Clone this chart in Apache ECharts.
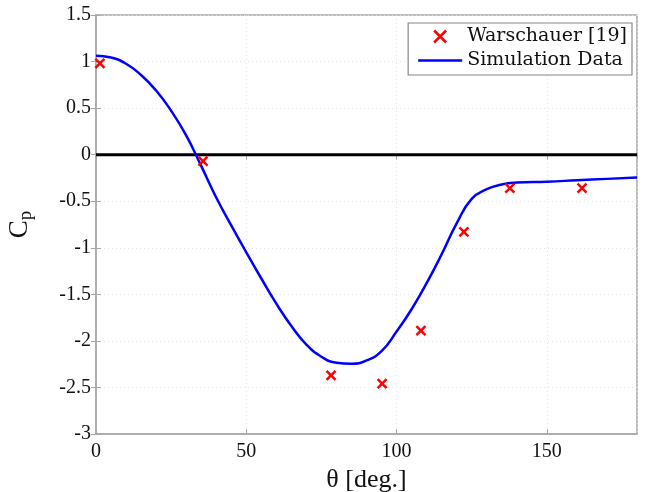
<!DOCTYPE html>
<html>
<head>
<meta charset="utf-8">
<script src="https://cdn.jsdelivr.net/npm/echarts@6/dist/echarts.min.js"></script>
<style>
html,body{margin:0;padding:0;background:#fff;}
#chart{width:647px;height:492px;}
</style>
</head>
<body>
<div id="chart"></div>
<script>
// Experimental data (Warschauer [19])
var expTheta = [1.3, 35.6, 78.2, 95.2, 108.1, 122.4, 137.7, 161.7];
var expCp    = [0.98, -0.07, -2.37, -2.46, -1.89, -0.83, -0.36, -0.36];
// Simulation data
var simTheta = [0, 5, 10, 15, 20, 25, 30, 35, 40, 45, 50, 55, 60, 65, 70, 75, 80, 85, 90, 95, 100, 105, 110, 115, 120, 125, 130, 135, 140, 150, 160, 170, 180];
var simCp    = [1.062, 1.043, 0.976, 0.855, 0.689, 0.472, 0.207, -0.12, -0.46, -0.76, -1.05, -1.33, -1.60, -1.84, -2.04, -2.17, -2.235, -2.245, -2.21, -2.11, -1.90, -1.66, -1.38, -1.07, -0.737, -0.475, -0.371, -0.32, -0.30, -0.29, -0.275, -0.26, -0.245];
var zeroTheta = [0, 180];
var zeroCp = [0, 0];
var seriesNames = ['Warschauer [19]', 'Simulation Data'];

function pairs(a, b) { return a.map(function (v, i) { return [v, b[i]]; }); }

var FONT = 'Liberation Serif';
var axisGrey = '#a8a8a8';
var chart = echarts.init(document.getElementById('chart'));
chart.setOption({
  animation: false,
  backgroundColor: '#fff',
  grid: { left: 96, right: 10, top: 15, bottom: 58, show: true, borderColor: axisGrey, borderWidth: 1.5, outerBoundsMode: 'none', containLabel: false },
  legend: {
    orient: 'vertical', right: 15, top: 23,
    backgroundColor: '#fff', borderColor: '#888', borderWidth: 1.2,
    padding: [4, 5, 5, 10], itemGap: 5, itemWidth: 44, itemHeight: 12,
    textStyle: { fontFamily: 'DejaVu Serif', fontSize: 19, color: '#111' },
    data: [
      { name: seriesNames[0], icon: 'path://M17,1L27,11M27,1L17,11', itemStyle: { color: 'transparent', borderColor: '#ff0000', borderWidth: 2.5 } },
      { name: seriesNames[1], icon: 'path://M0,0M0,4.8L44,4.8L44,7.2L0,7.2ZM44,12', itemStyle: { color: '#0000ff', borderWidth: 0 } }
    ]
  },
  xAxis: [{
    type: 'value', min: 0, max: 180, interval: 50,
    name: 'θ [deg.]', nameLocation: 'middle', nameGap: 33,
    nameTextStyle: { fontFamily: FONT, fontSize: 26, color: '#111' },
    axisLine: { show: true, onZero: false, lineStyle: { color: axisGrey, width: 1.5 } },
    axisTick: { show: true, inside: true, length: 5, lineStyle: { color: axisGrey } },
    axisLabel: { fontFamily: FONT, fontSize: 20, color: '#111', margin: 8, showMaxLabel: false },
    splitLine: { show: true, lineStyle: { color: '#e4e4e4', type: [1, 3] } }
  }, {
    type: 'value', min: 0, max: 180, interval: 50, position: 'top',
    axisLine: { show: false }, axisLabel: { show: false }, splitLine: { show: false },
    axisTick: { show: true, inside: true, length: 5, lineStyle: { color: axisGrey } }
  }],
  yAxis: [{
    type: 'value', min: -3, max: 1.5, interval: 0.5,
    name: 'C{s|p}', nameLocation: 'middle', nameGap: 60, nameRotate: 90,
    nameTextStyle: { fontFamily: FONT, fontSize: 27, color: '#111', rich: { s: { fontFamily: FONT, fontSize: 19, verticalAlign: 'bottom', padding: [14, 0, 0, 0] } } },
    axisLine: { show: true, onZero: false, lineStyle: { color: axisGrey, width: 1.5 } },
    axisTick: { show: true, inside: true, length: 5, lineStyle: { color: axisGrey } },
    axisLabel: { fontFamily: FONT, fontSize: 20, color: '#111', margin: 5 },
    splitLine: { show: true, lineStyle: { color: '#e4e4e4', type: [1, 3] } }
  }, {
    type: 'value', min: -3, max: 1.5, interval: 0.5, position: 'right',
    axisLine: { show: false }, axisLabel: { show: false }, splitLine: { show: false },
    axisTick: { show: true, inside: true, length: 5, lineStyle: { color: axisGrey } }
  }],
  series: [{
    name: 'zero', type: 'line', data: pairs(zeroTheta, zeroCp), symbol: 'none',
    lineStyle: { color: '#000', width: 3 }, z: 2, silent: true
  }, {
    name: seriesNames[1], type: 'line', data: pairs(simTheta, simCp), symbol: 'none', smooth: 0.5,
    lineStyle: { color: '#0000ff', width: 2.5 }, itemStyle: { color: '#0000ff' }, z: 3
  }, {
    name: seriesNames[0], type: 'scatter', data: pairs(expTheta, expCp),
    symbol: 'path://M0,0L10,10M10,0L0,10', symbolSize: 9,
    itemStyle: { color: 'transparent', borderColor: '#ff0000', borderWidth: 2.5, opacity: 1 }, z: 4
  }]
});
</script>
</body>
</html>
